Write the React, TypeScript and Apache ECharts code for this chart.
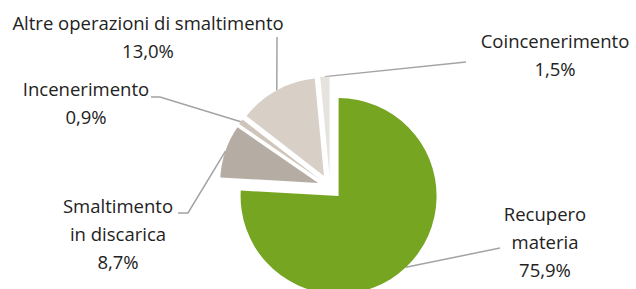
import React, { useEffect, useRef } from "react";
import * as echarts from "echarts";

const categories = [
  "Recupero\nmateria",
  "Smaltimento\nin discarica",
  "Incenerimento",
  "Altre operazioni di smaltimento",
  "Coincenerimento",
];
const values = [75.9, 8.7, 0.9, 13.0, 1.5];
const colors = ["#76a522", "#b5aca3", "#cfc5ba", "#d8d0c7", "#e6e2de"];

const CX = 330;
const CY = 187;
const R = 98;
const OFFSET = 12.5;

// label placement: [centerX, topY], plus label-line bend/end points
const labelPos: number[][] = [
  [545, 199],
  [118, 191],
  [86, 74],
  [148, 8],
  [555, 26],
];
const linePts: number[][][] = [
  [[500, 248]],
  [[188, 213], [178, 213]],
  [[160, 97], [151, 97]],
  [[277, 37]],
  [[466, 62]],
];

const fmt = (v: number) => v.toFixed(1).replace(".", ",") + "%";

export default function App() {
  const ref = useRef<HTMLDivElement>(null);
  useEffect(() => {
    if (!ref.current) return;
    const chart = echarts.init(ref.current, undefined, { renderer: "svg" });
    const total = values.reduce((a, b) => a + b, 0);
    let cum = 0;
    const graphics: any[] = [];
    values.forEach((v, i) => {
      const mid = ((cum + v / 2) / total) * Math.PI * 2;
      cum += v;
      const dx = Math.sin(mid);
      const dy = -Math.cos(mid);
      const start = [CX + dx * (R + OFFSET), CY + dy * (R + OFFSET)];
      graphics.push({
        type: "polyline",
        silent: true,
        shape: { points: [start, ...linePts[i]] },
        style: { stroke: "#a3a3a3", lineWidth: 1.5, fill: null },
      });
      graphics.push({
        type: "text",
        silent: true,
        x: labelPos[i][0],
        y: labelPos[i][1],
        style: {
          text: categories[i] + "\n" + fmt(v),
          align: "center",
          verticalAlign: "top",
          fontFamily: "Open Sans",
          fontSize: 18.5,
          fontWeight: 500,
          lineHeight: 28,
          fill: "#222222",
        },
      });
    });
    chart.setOption({
      animation: false,
      graphic: graphics,
      series: [
        {
          type: "pie",
          center: [CX, CY],
          radius: R,
          startAngle: 90,
          clockwise: true,
          selectedMode: "multiple",
          selectedOffset: OFFSET,
          emphasis: { disabled: true },
          select: { itemStyle: { borderWidth: 0 } },
          itemStyle: { borderWidth: 0 },
          label: { show: false },
          labelLine: { show: false },
          data: categories.map((c, i) => ({
            name: c,
            value: values[i],
            selected: true,
            itemStyle: { color: colors[i] },
            select: { itemStyle: { color: colors[i] } },
          })),
        },
      ],
    });
    return () => chart.dispose();
  }, []);
  return (
    <div
      ref={ref}
      style={{ position: "absolute", left: 0, top: 0, width: 636, height: 289 }}
    />
  );
}
